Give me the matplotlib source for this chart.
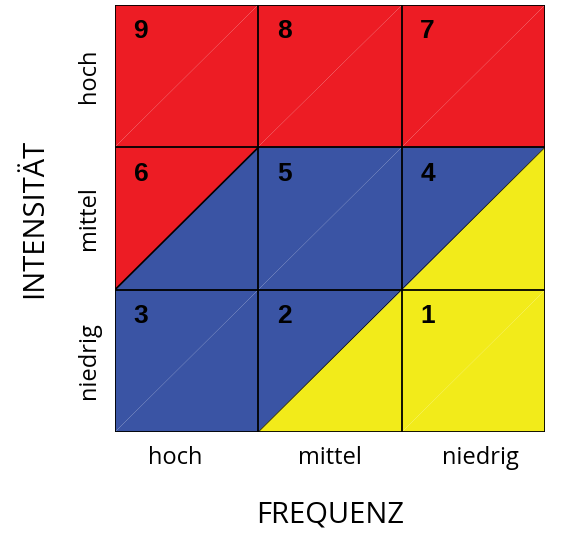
import matplotlib
matplotlib.use("Agg")
import matplotlib.pyplot as plt
from matplotlib.patches import Polygon

RED = "#ED1C24"
BLUE = "#3A54A4"
YELLOW = "#F2EB1A"

freq_labels = ["hoch", "mittel", "niedrig"]
int_labels = ["niedrig", "mittel", "hoch"]
# rows bottom->top, columns left->right: (upper-left colour, lower-right colour)
cells = [
    [(BLUE, BLUE), (BLUE, YELLOW), (YELLOW, YELLOW)],
    [(RED, BLUE), (BLUE, BLUE), (BLUE, YELLOW)],
    [(RED, RED), (RED, RED), (RED, RED)],
]
numbers = [
    [3, 2, 1],
    [6, 5, 4],
    [9, 8, 7],
]

fig = plt.figure(figsize=(5.62, 5.37), dpi=100)
ax = fig.add_axes([0.2046, 0.1955, 0.765, 0.795])

for r in range(3):
    for c in range(3):
        ul, lr = cells[r][c]
        ax.add_patch(Polygon([(c, r), (c, r + 1), (c + 1, r + 1)], closed=True,
                             facecolor=ul, edgecolor="none"))
        ax.add_patch(Polygon([(c, r), (c + 1, r), (c + 1, r + 1)], closed=True,
                             facecolor=lr, edgecolor="none"))
        if ul != lr:
            ax.plot([c, c + 1], [r, r + 1], color="black", lw=1.2 if ul == RED else 0.5)
        ax.text(c + 0.13, r + 0.9, str(numbers[r][c]), fontsize=19, fontweight="bold",
                family="Liberation Sans", ha="left", va="top")

for i in range(4):
    ax.plot([i, i], [0, 3], color="black", lw=1.3)
    ax.plot([0, 3], [i, i], color="black", lw=1.3)

ax.set_xlim(0, 3)
ax.set_ylim(0, 3)
for s in ax.spines.values():
    s.set_visible(False)
ax.set_xticks([0.42, 1.5, 2.55])
ax.set_xticklabels(freq_labels, fontsize=17, family="Open Sans")
ax.set_yticks([0.5, 1.5, 2.5])
ax.set_yticklabels(int_labels, fontsize=17, family="Open Sans", rotation=90, va="center")
ax.tick_params(length=0, pad=10)
ax.set_xlabel("FREQUENZ", fontsize=21, family="Open Sans", labelpad=22)
ax.set_ylabel("INTENSITÄT", fontsize=21, family="Open Sans", labelpad=20)

fig.savefig("out.png", dpi=100)
